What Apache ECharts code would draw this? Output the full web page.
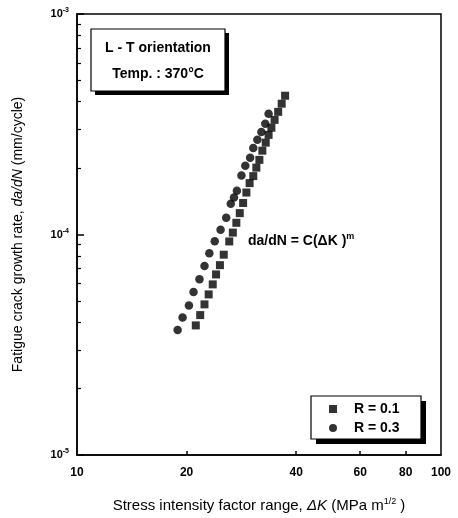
<!DOCTYPE html>
<html>
<head>
<meta charset="utf-8">
<script src="https://cdn.jsdelivr.net/npm/echarts@6/dist/echarts.min.js"></script>
<style>html,body{margin:0;padding:0;background:#fff}#c{width:458px;height:518px}</style>
</head>
<body>
<div id="c"></div>
<script>
// R = 0.1 (squares)
const r01DeltaK = [21.2, 21.8, 22.4, 23.0, 23.6, 24.1, 24.7, 25.3, 26.2, 26.8, 27.4, 28.0, 28.6, 29.2, 29.8, 30.5, 31.1, 31.7, 32.3, 33.0, 33.6, 34.2, 34.9, 35.7, 36.5, 37.3];
const r01Rate = [3.87e-5, 4.31e-5, 4.82e-5, 5.35e-5, 5.94e-5, 6.59e-5, 7.26e-5, 8.1e-5, 9.3e-5, 1.02e-4, 1.13e-4, 1.25e-4, 1.39e-4, 1.55e-4, 1.71e-4, 1.84e-4, 2.01e-4, 2.18e-4, 2.40e-4, 2.61e-4, 2.83e-4, 3.05e-4, 3.31e-4, 3.60e-4, 3.92e-4, 4.26e-4];
// R = 0.3 (circles)
const r03DeltaK = [18.9, 19.5, 20.3, 20.9, 21.7, 22.4, 23.1, 23.9, 24.8, 25.7, 26.45, 27.0, 27.5, 28.3, 29.0, 29.9, 30.5, 31.3, 32.1, 32.9, 33.6];
const r03Rate = [3.69e-5, 4.20e-5, 4.77e-5, 5.48e-5, 6.26e-5, 7.19e-5, 8.22e-5, 9.33e-5, 1.05e-4, 1.19e-4, 1.38e-4, 1.47e-4, 1.58e-4, 1.85e-4, 2.05e-4, 2.23e-4, 2.47e-4, 2.69e-4, 2.92e-4, 3.18e-4, 3.53e-4];

const seriesNames = ['R = 0.1', 'R = 0.3'];
const xTickLabels = [10, 20, 40, 60, 80, 100];
const xTickMarks = [20, 40, 60, 80];
const yTickLabels = [1e-5, 1e-4, 1e-3];
const yMinorTicks = [2e-5, 3e-5, 4e-5, 5e-5, 6e-5, 7e-5, 8e-5, 9e-5, 2e-4, 3e-4, 4e-4, 5e-4, 6e-4, 7e-4, 8e-4, 9e-4];

const FONT = '"Liberation Sans", Arial, sans-serif';
const zip = (a, b) => a.map((v, i) => [v, b[i]]);

const chart = echarts.init(document.getElementById('c'), null, {renderer: 'canvas'});
chart.setOption({
  animation: false,
  backgroundColor: '#fff',
  grid: {left: 77, right: 17, top: 14, bottom: 61, show: true, borderColor: '#000', borderWidth: 1.5, backgroundColor: 'transparent'},
  xAxis: {
    type: 'log', logBase: 10, min: 10, max: 100,
    axisLine: {show: true, onZero: false, lineStyle: {color: '#000', width: 1.5}},
    axisTick: {show: true, inside: true, length: 4, customValues: xTickMarks, lineStyle: {color: '#000', width: 1.5}},
    splitLine: {show: false},
    minorTick: {show: false},
    axisLabel: {customValues: xTickLabels, color: '#000', fontFamily: FONT, fontSize: 12, fontWeight: 'bold', margin: 12},
    name: '{n|Stress intensity factor range, }{i|ΔK}{n| (MPa m}{s|1/2}{n| )}',
    nameLocation: 'middle', nameGap: 42,
    nameTextStyle: {
      rich: {
        n: {fontFamily: FONT, fontSize: 15, color: '#000'},
        i: {fontFamily: FONT, fontSize: 15, fontStyle: 'italic', color: '#000'},
        s: {fontFamily: FONT, fontSize: 9, color: '#000', verticalAlign: 'top', padding: [0, 0, 8, 0]}
      }
    }
  },
  yAxis: [{
    type: 'log', logBase: 10, min: 1e-5, max: 1e-3,
    axisLine: {show: true, onZero: false, lineStyle: {color: '#000', width: 1.5}},
    axisTick: {show: true, inside: true, length: 7, customValues: yTickLabels, lineStyle: {color: '#000', width: 1.5}},
    splitLine: {show: false},
    axisLabel: {
      customValues: yTickLabels, margin: 8,
      formatter: v => '{b|10}{s|' + Math.round(Math.log10(v)) + '}',
      rich: {
        b: {fontFamily: FONT, fontSize: 11, fontWeight: 'bold', color: '#000'},
        s: {fontFamily: FONT, fontSize: 7, fontWeight: 'bold', color: '#000', verticalAlign: 'top', padding: [0, 0, 7, 0]}
      }
    },
    name: '{n|Fatigue crack growth rate, }{i|da/dN}{n| (mm/cycle)}',
    nameLocation: 'middle', nameGap: 52, nameRotate: 90,
    nameTextStyle: {
      rich: {
        n: {fontFamily: FONT, fontSize: 14, color: '#000'},
        i: {fontFamily: FONT, fontSize: 14, fontStyle: 'italic', color: '#000'}
      }
    }
  }, {
    type: 'log', logBase: 10, min: 1e-5, max: 1e-3, position: 'left', offset: 0,
    axisLine: {show: false},
    axisTick: {show: true, inside: true, length: 4, customValues: yMinorTicks, lineStyle: {color: '#000', width: 1.2}},
    axisLabel: {show: false},
    splitLine: {show: false}
  }],
  legend: {
    orient: 'vertical', left: 313, top: 398, z: 20,
    data: [{name: seriesNames[0], icon: 'rect'}, {name: seriesNames[1], icon: 'circle'}],
    itemWidth: 8, itemHeight: 8, itemGap: 5,
    padding: [4, 10, 4, 16],
    backgroundColor: 'transparent', borderWidth: 0,
    textStyle: {fontFamily: FONT, fontSize: 14, fontWeight: 'bold', color: '#000', padding: [0, 0, 0, 12]}
  },
  graphic: [
    {type: 'rect', shape: {x: 95, y: 33, width: 134, height: 62}, style: {fill: '#000'}, z: 10},
    {type: 'rect', shape: {x: 91, y: 29, width: 134, height: 62}, style: {fill: '#fff', stroke: '#000', lineWidth: 1.2}, z: 11},
    {type: 'text', x: 158, y: 48, style: {text: 'L - T orientation', fontFamily: FONT, fontSize: 14, fontWeight: 'bold', fill: '#000', align: 'center', verticalAlign: 'middle'}, z: 12},
    {type: 'text', x: 158, y: 74, style: {text: 'Temp. : 370°C', fontFamily: FONT, fontSize: 14, fontWeight: 'bold', fill: '#000', align: 'center', verticalAlign: 'middle'}, z: 12},
    {type: 'rect', shape: {x: 316, y: 401, width: 110, height: 43}, style: {fill: '#000'}, z: 10},
    {type: 'rect', shape: {x: 311, y: 396, width: 110, height: 43}, style: {fill: '#fff', stroke: '#000', lineWidth: 1.2}, z: 11},
    {type: 'text', x: 248, y: 241, style: {
      text: '{a|da/dN = C(ΔK )}{m|m}',
      rich: {
        a: {fontFamily: FONT, fontSize: 14, fontWeight: 'bold', fill: '#000'},
        m: {fontFamily: FONT, fontSize: 9, fontWeight: 'bold', fill: '#000', verticalAlign: 'top', padding: [0, 0, 9, 0]}
      },
      verticalAlign: 'middle'}, z: 12}
  ],
  series: [{
    name: seriesNames[0], type: 'scatter', yAxisIndex: 0,
    symbol: 'rect', symbolSize: 8,
    itemStyle: {color: '#000'},
    data: zip(r01DeltaK, r01Rate)
  }, {
    name: seriesNames[1], type: 'scatter', yAxisIndex: 0,
    symbol: 'circle', symbolSize: 8.5,
    itemStyle: {color: '#000'},
    data: zip(r03DeltaK, r03Rate)
  }]
});
</script>
</body>
</html>
